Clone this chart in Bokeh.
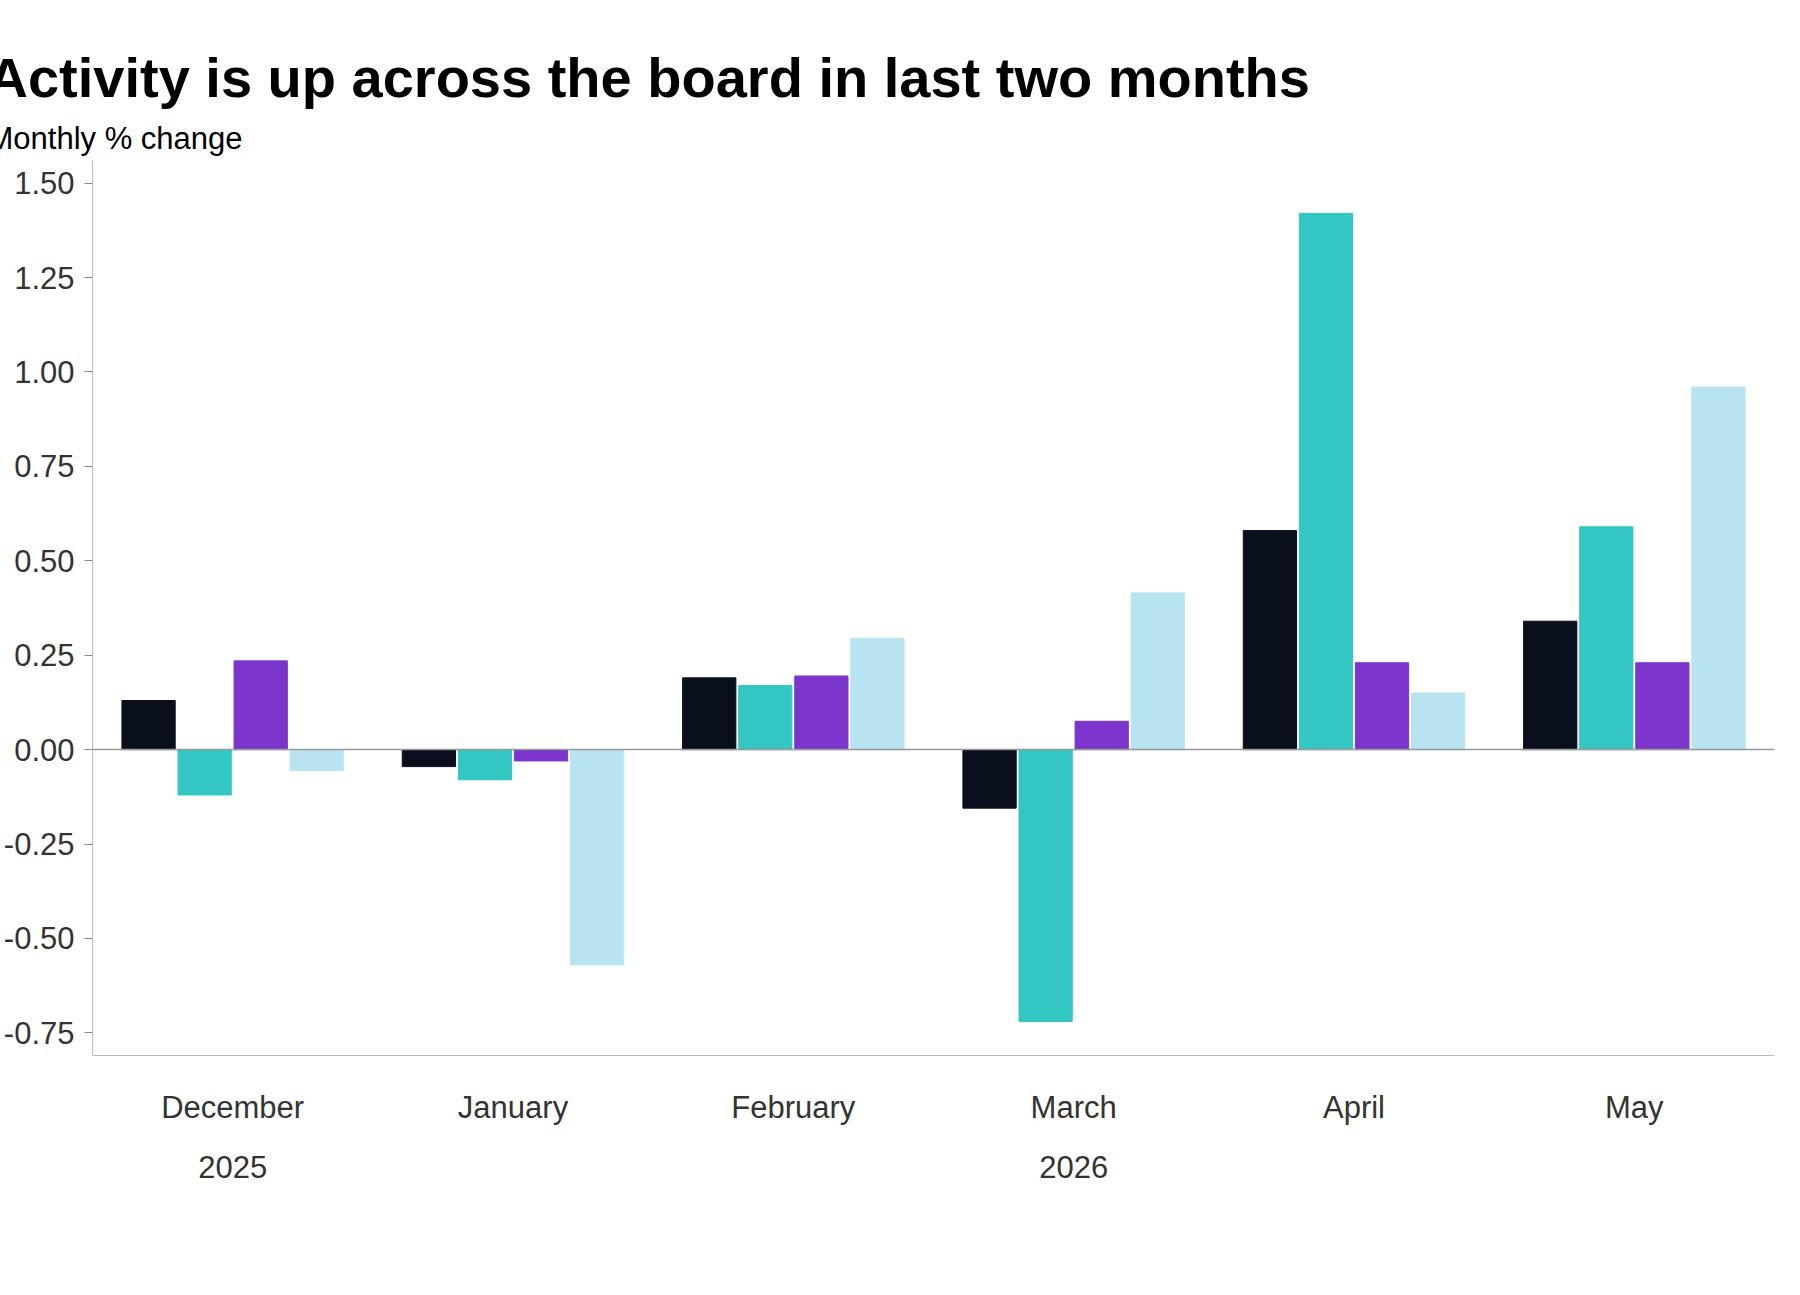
from bokeh.plotting import figure
from bokeh.models import FactorRange, Span, Title, Legend, ColumnDataSource, FixedTicker, NumeralTickFormatter, Label
from bokeh.transform import dodge
from bokeh.embed import file_html
from bokeh.resources import INLINE

months = ["December", "January", "February", "March", "April", "May"]
years = ["2025", "2026", "2026", "2026", "2026", "2026"]
all_ind = [0.13, -0.045, 0.19, -0.155, 0.58, 0.34]
goods = [-0.12, -0.08, 0.17, -0.72, 1.42, 0.59]
services = [0.235, -0.03, 0.195, 0.075, 0.23, 0.23]
nondur = [-0.055, -0.57, 0.295, 0.415, 0.15, 0.96]
series = [("All Industries", all_ind, "#0a0f1e"),
          ("Goods-Producing Industries", goods, "#33c6c2"),
          ("Service-Producing Industries", services, "#7b35cc"),
          ("Non-Durable Manufacturing", nondur, "#b8e3f0")]

F = "Liberation Sans"
x = list(zip(years, months))
src = ColumnDataSource(dict(x=x, a=all_ind, g=goods, s=services, n=nondur))

p = figure(x_range=FactorRange(*x, group_padding=0, factor_padding=0, range_padding=0),
           y_range=(-0.81, 1.56), width=1784, height=1270,
           output_backend="svg", toolbar_location=None,
           min_border_left=20, min_border_right=10, min_border_bottom=215, min_border_top=160)
keys = ["a", "g", "s", "n"]
offs = [-0.3, -0.1, 0.1, 0.3]
items = []
for (name, _, col), k, o in zip(series, keys, offs):
    r = p.vbar(x=dodge("x", o, range=p.x_range), top=k, width=0.19, source=src, color=col)
    items.append((name, [r]))

p.add_layout(Span(location=0, dimension="width", line_color="#999999", line_width=1.5))
p.xgrid.visible = False
p.ygrid.visible = False
p.outline_line_color = None
p.yaxis.ticker = FixedTicker(ticks=[-0.75, -0.5, -0.25, 0, 0.25, 0.5, 0.75, 1.0, 1.25, 1.5])
p.yaxis.formatter = NumeralTickFormatter(format="0.00")
for ax in (p.xaxis, p.yaxis):
    ax.major_label_text_font = F
    ax.major_label_text_font_size = "31px"
    ax.major_label_text_color = "#333333"
    ax.axis_line_color = "#bbbbbb"
    ax.major_tick_line_color = "#888888"
    ax.minor_tick_line_color = None
p.yaxis.major_tick_in = 0
p.yaxis.major_tick_out = 8
p.xaxis.group_text_font = F
p.xaxis.group_text_font_size = "31px"
p.xaxis.group_text_font_style = "normal"
p.xaxis.group_text_color = "#333333"
p.xaxis.separator_line_color = None
p.xaxis.major_tick_line_color = None
p.xaxis.major_label_standoff = 28
p.yaxis.major_label_standoff = 10

leg = Legend(items=items, orientation="horizontal", location=(-75, -185),
             label_text_font=F, label_text_font_size="32px", label_text_color="#333333",
             glyph_width=18, glyph_height=22, spacing=12, label_standoff=4,
             border_line_color=None, background_fill_alpha=0, padding=5, margin=0)
p.add_layout(leg, "center")
p.add_layout(Label(x=-103, y=-230, x_units="screen", y_units="screen",
                   text="Source: Statistics Canada", text_font=F, text_font_size="25px",
                   text_color="#333333"))
p.add_layout(Title(text="Monthly % change", text_font=F, text_font_size="31px",
                   text_font_style="normal", text_color="#000000", offset=-105), "above")
p.add_layout(Title(text="Activity is up across the board in last two months", text_font=F,
                   text_font_size="56px", text_font_style="bold", text_color="#000000", offset=-105), "above")

open("out.html", "w").write(file_html(p, INLINE))
